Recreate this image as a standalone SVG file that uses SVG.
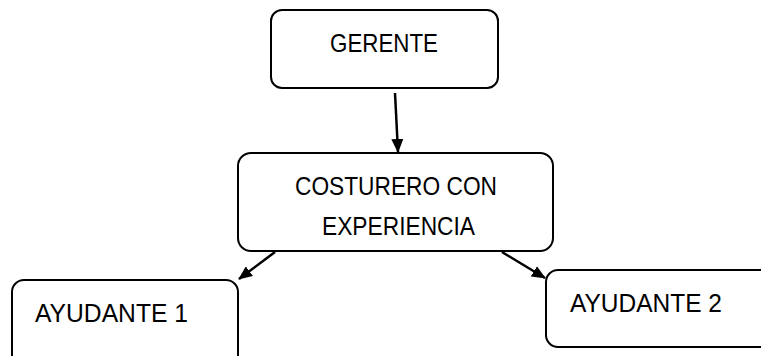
<svg xmlns="http://www.w3.org/2000/svg" width="761" height="356" viewBox="0 0 761 356">
<defs>
<marker id="ah" markerWidth="14" markerHeight="12" refX="13" refY="6" orient="auto" markerUnits="userSpaceOnUse" viewBox="0 0 14 12">
<path d="M0,0 L14,6 L0,12 Z" fill="#000"/>
</marker>
<style>
.box{fill:#fff;stroke:#000;stroke-width:2}
.t{font-family:"Liberation Sans",Arial,sans-serif;font-size:26px;fill:#000}
.c{stroke:#000;stroke-width:2.5;fill:none}
</style>
</defs>
<rect width="761" height="356" fill="#fff"/>
<g id="gerente">
<rect class="box" x="271" y="10" width="227" height="78" rx="11"/>
<text class="t" x="330" y="52" textLength="108" lengthAdjust="spacingAndGlyphs">GERENTE</text>
</g>
<g id="costurero">
<rect class="box" x="238" y="153" width="315" height="98" rx="13"/>
<text class="t" x="295" y="195" textLength="202" lengthAdjust="spacingAndGlyphs">COSTURERO CON</text>
<text class="t" x="322" y="235" textLength="153" lengthAdjust="spacingAndGlyphs">EXPERIENCIA</text>
</g>
<g id="ayudante1">
<rect class="box" x="12" y="280" width="226" height="90" rx="12"/>
<text class="t" x="35" y="322" textLength="153" lengthAdjust="spacingAndGlyphs">AYUDANTE 1</text>
</g>
<g id="ayudante2">
<rect class="box" x="546" y="270" width="240" height="77" rx="12"/>
<text class="t" x="570" y="312" textLength="152" lengthAdjust="spacingAndGlyphs">AYUDANTE 2</text>
</g>
<g id="connectors">
<line class="c" x1="395" y1="93" x2="398" y2="152" marker-end="url(#ah)"/>
<line class="c" x1="275" y1="252" x2="239" y2="279" marker-end="url(#ah)"/>
<line class="c" x1="502" y1="252" x2="545" y2="278" marker-end="url(#ah)"/>
</g>
</svg>
